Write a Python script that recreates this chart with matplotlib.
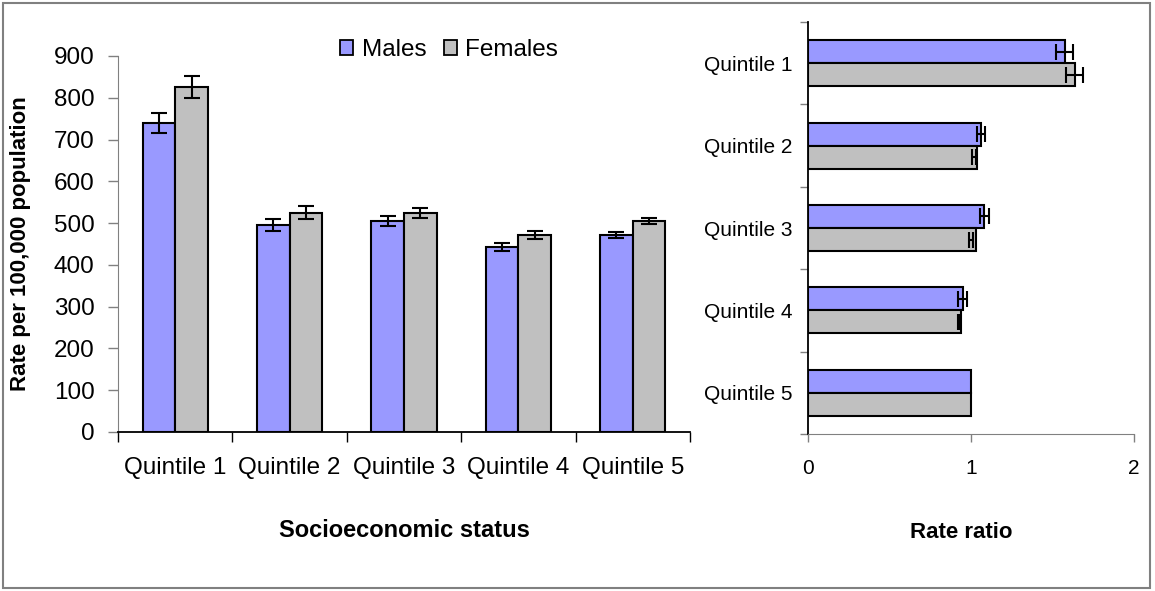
import numpy as np
import matplotlib
matplotlib.use("Agg")
import matplotlib.pyplot as plt
from matplotlib.patches import Patch, Rectangle

quintiles = ["Quintile 1", "Quintile 2", "Quintile 3", "Quintile 4", "Quintile 5"]

# rates per 100,000 population, with error half-widths
male_rate = [740, 496, 505, 443, 472]
male_rate_err = [24, 14, 12, 10, 7]
female_rate = [826, 525, 525, 472, 505]
female_rate_err = [27, 15, 12, 10, 8]

# rate ratios (Quintile 5 is the reference group)
male_ratio = [1.575, 1.06, 1.08, 0.95, 1.0]
female_ratio = [1.635, 1.035, 1.03, 0.937, 1.0]
# confidence limits for Quintiles 1-4
male_ratio_lo = [1.521, 1.035, 1.055, 0.923]
male_ratio_hi = [1.628, 1.086, 1.113, 0.978]
female_ratio_lo = [1.583, 1.004, 0.990, 0.919]
female_ratio_hi = [1.689, 1.031, 1.014, 0.931]

blue = "#9999FF"
grey = "#C0C0C0"
font = ["Liberation Sans", "DejaVu Sans"]
plt.rcParams["font.family"] = font

fig = plt.figure(figsize=(11.55, 5.91), dpi=100)
W, H = 1155, 591

def axes_px(x0, x1, ytop, ybot):
    return fig.add_axes([x0 / W, 1 - ybot / H, (x1 - x0) / W, (ybot - ytop) / H])

# ---- left panel: rates
ax = axes_px(118, 690, 56, 432)
x = np.arange(len(quintiles))
bw = 0.285
ax.bar(x - bw / 2, male_rate, bw, color=blue, edgecolor="black", lw=1.5, zorder=2)
ax.bar(x + bw / 2, female_rate, bw, color=grey, edgecolor="black", lw=1.5, zorder=2)
ax.errorbar(x - bw / 2, male_rate, yerr=male_rate_err, fmt="none", ecolor="black",
            elinewidth=1.5, capsize=5.5, capthick=1.5, zorder=3)
ax.errorbar(x + bw / 2, female_rate, yerr=female_rate_err, fmt="none", ecolor="black",
            elinewidth=1.5, capsize=5.5, capthick=1.5, zorder=3)
ax.set_xlim(-0.5, 4.5)
ax.set_ylim(0, 900)
ax.set_yticks(range(0, 901, 100))
ax.set_xticks(np.arange(-0.5, 5, 1))
ax.set_xticklabels([])
ax.set_xticks(x, minor=True)
ax.set_xticklabels(quintiles, minor=True, fontsize=17.5)
ax.tick_params(axis="x", which="minor", length=0, pad=18)
ax.tick_params(axis="x", which="major", length=7, width=1, color="black", direction="out")
ax.tick_params(axis="y", length=7, width=1, color="#808080", pad=10, labelsize=17.5)
for s in ("top", "right"):
    ax.spines[s].set_visible(False)
ax.spines["left"].set_color("#808080")
ax.spines["bottom"].set_color("black")
ax.spines["bottom"].set_linewidth(1.3)
ax.set_ylabel("Rate per 100,000 population", fontsize=16, fontweight="bold")
ax.yaxis.set_label_coords(-0.152, 0.5)
ax.set_xlabel("Socioeconomic status", fontsize=17, fontweight="bold")
ax.xaxis.set_label_coords(0.5, -0.263)
ax.xaxis.label.set_va("center")
handles = [Patch(facecolor=blue, edgecolor="black", lw=1.3),
           Patch(facecolor=grey, edgecolor="black", lw=1.3)]
ax.legend(handles, ["Males", "Females"], loc="center", bbox_to_anchor=(0.579, 1.016),
          ncol=2, frameon=False, fontsize=17.5,
          handlelength=0.55, handleheight=0.55, handletextpad=0.35, columnspacing=0.7)

# ---- right panel: rate ratios
ax2 = axes_px(808, 1134, 22, 434)
y = np.arange(len(quintiles))
bh = 0.28
ax2.barh(y - bh / 2, male_ratio, bh, color=blue, edgecolor="black", lw=1.5, zorder=2)
ax2.barh(y + bh / 2, female_ratio, bh, color=grey, edgecolor="black", lw=1.5, zorder=2)
n = len(male_ratio_lo)
m_mid = (np.array(male_ratio_lo) + np.array(male_ratio_hi)) / 2
f_mid = (np.array(female_ratio_lo) + np.array(female_ratio_hi)) / 2
ax2.errorbar(m_mid, y[:n] - bh / 2, xerr=(np.array(male_ratio_hi) - np.array(male_ratio_lo)) / 2,
             fmt="none", ecolor="black", elinewidth=1.5, capsize=5.5, capthick=1.5, zorder=3)
ax2.errorbar(f_mid, y[:n] + bh / 2, xerr=(np.array(female_ratio_hi) - np.array(female_ratio_lo)) / 2,
             fmt="none", ecolor="black", elinewidth=1.5, capsize=5.5, capthick=1.5, zorder=3)
ax2.set_xlim(0, 2)
ax2.set_ylim(4.5, -0.5)
ax2.set_xticks([0, 1, 2])
ax2.set_yticks(np.arange(-0.5, 5, 1))
ax2.set_yticklabels([])
ax2.set_yticks(y, minor=True)
ax2.set_yticklabels(quintiles, minor=True, fontsize=15)
ax2.tick_params(axis="y", which="minor", length=0, pad=11)
ax2.tick_params(axis="y", which="major", length=6, width=1, color="#808080")
ax2.tick_params(axis="x", length=6, width=1, color="#808080", pad=12, labelsize=15)
for s in ("top", "right"):
    ax2.spines[s].set_visible(False)
ax2.spines["left"].set_color("black")
ax2.spines["left"].set_linewidth(1.3)
ax2.spines["bottom"].set_color("#808080")
ax2.set_xlabel("Rate ratio", fontsize=16, fontweight="bold")
ax2.xaxis.set_label_coords(0.469, -0.238)
ax2.xaxis.label.set_va("center")

# outer frame
fig.add_artist(Rectangle((3 / W, 3 / H), 1147 / W, 585 / H, transform=fig.transFigure,
                         fill=False, edgecolor="#808080", lw=1.5))

fig.savefig("out.png", dpi=100)
